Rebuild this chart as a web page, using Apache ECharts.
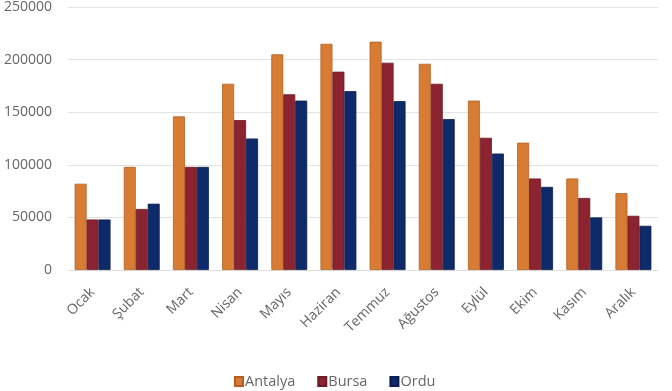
<!DOCTYPE html>
<html><head><meta charset="utf-8">
<script src="https://cdn.jsdelivr.net/npm/echarts@6/dist/echarts.min.js"></script>
<style>html,body{margin:0;padding:0;background:#fff}#c{width:672px;height:391px}</style>
</head><body><div id="c"></div>
<script>
const months = ['Ocak','Şubat','Mart','Nisan','Mayıs','Haziran','Temmuz','Ağustos','Eylül','Ekim','Kasım','Aralık'];
const antalya = [82000, 98000, 146000, 177000, 205000, 215000, 217000, 196000, 161000, 121000, 87000, 73000];
const bursa   = [48000, 58000, 98000, 142500, 167000, 188500, 197000, 177000, 125700, 87000, 68500, 51500];
const ordu    = [48000, 63000, 98000, 125000, 161000, 170000, 160500, 143500, 110700, 79000, 50000, 42000];
const yTicks  = [0, 50000, 100000, 150000, 200000, 250000];

const chart = echarts.init(document.getElementById('c'));
const font = 'Open Sans';
const txt = '#666666';
chart.setOption({
  animation: false,
  grid: {left: 68, right: 14, top: 4, bottom: 121, containLabel: false},
  legend: {
    top: 369, left: 229, itemWidth: 8, itemHeight: 9, itemGap: 22,
    icon: 'rect',
    textStyle: {color: txt, fontSize: 14.5, fontFamily: font, padding: [0, 0, 0, -3]},
    data: ['Antalya', 'Bursa', 'Ordu']
  },
  xAxis: {
    type: 'category', data: months,
    axisLine: {show: true, lineStyle: {color: '#dedede'}},
    axisTick: {show: false},
    axisLabel: {rotate: 45, color: txt, fontSize: 14, fontFamily: font, margin: 20, interval: 0}
  },
  yAxis: {
    type: 'value', min: yTicks[0], max: yTicks[yTicks.length-1], interval: 50000,
    axisLine: {show: false}, axisTick: {show: false},
    axisLabel: {color: txt, fontSize: 14, fontFamily: font, margin: 16, formatter: v => String(v)},
    splitLine: {lineStyle: {color: '#e3e3e3', width: 1}}
  },
  series: [
    {name: 'Antalya', type: 'bar', data: antalya, barGap: '0%', barCategoryGap: '27%',
     itemStyle: {color: '#d97c33', borderColor: '#b35f22', borderWidth: 0.8}},
    {name: 'Bursa', type: 'bar', data: bursa,
     itemStyle: {color: '#8c2331', borderColor: '#6a1a24', borderWidth: 0.8}},
    {name: 'Ordu', type: 'bar', data: ordu,
     itemStyle: {color: '#0f2a6b', borderColor: '#0a1d4d', borderWidth: 0.8}}
  ]
});
</script></body></html>
